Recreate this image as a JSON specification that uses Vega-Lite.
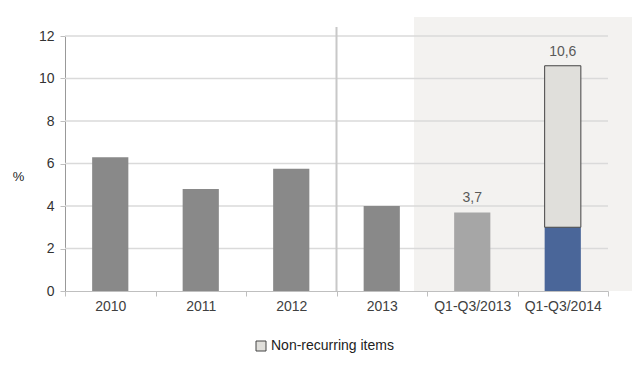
{
  "$schema": "https://vega.github.io/schema/vega-lite/v6.json",
  "width": 543,
  "height": 255,
  "autosize": {"type": "none"},
  "padding": {"left": 65, "top": 36, "right": 36, "bottom": 79},
  "background": "#ffffff",
  "config": {
    "view": {"stroke": null},
    "font": "Liberation Sans",
    "axis": {"labelFont": "Liberation Sans", "labelColor": "#404040", "labelFontSize": 14}
  },
  "datasets": {
    "bars": [
      {"cat": "2010", "segment": "Annual", "low": 0, "high": 6.3},
      {"cat": "2011", "segment": "Annual", "low": 0, "high": 4.8},
      {"cat": "2012", "segment": "Annual", "low": 0, "high": 5.75},
      {"cat": "2013", "segment": "Annual", "low": 0, "high": 4.0},
      {"cat": "Q1-Q3/2013", "segment": "Interim 2013", "low": 0, "high": 3.7},
      {"cat": "Q1-Q3/2014", "segment": "Interim 2014", "low": 0, "high": 3.0},
      {"cat": "Q1-Q3/2014", "segment": "Non-recurring items", "low": 3.0, "high": 10.6}
    ],
    "labels": [
      {"cat": "Q1-Q3/2013", "total": 3.7, "label": "3,7"},
      {"cat": "Q1-Q3/2014", "total": 10.6, "label": "10,6"}
    ],
    "grid": [{"v": 2}, {"v": 4}, {"v": 6}, {"v": 8}, {"v": 10}, {"v": 12}],
    "shade": [{"from": "Q1-Q3/2013"}],
    "sep": [{"at": "2013"}]
  },
  "encoding": {
    "x": {
      "field": "cat",
      "type": "nominal",
      "sort": null,
      "scale": {"domain": ["2010", "2011", "2012", "2013", "Q1-Q3/2013", "Q1-Q3/2014"], "paddingInner": 0, "paddingOuter": 0},
      "axis": {
        "title": null,
        "labelAngle": 0,
        "tickBand": "extent",
        "domainColor": "#bfbfbf",
        "tickColor": "#bfbfbf",
        "tickSize": 5,
        "labelPadding": 3
      }
    }
  },
  "layer": [
    {
      "data": {"name": "shade"},
      "mark": {"type": "rect", "color": "#f3f2f0", "xOffset": -13, "x2Offset": 24, "yOffset": -19, "y2Offset": 47},
      "encoding": {
        "x": {"field": "from", "type": "nominal", "bandPosition": 0},
        "x2": {"value": "width"}
      }
    },
    {
      "data": {"name": "grid"},
      "mark": {"type": "rule", "color": "#dadada", "strokeWidth": 1.5},
      "encoding": {
        "x": null,
        "y": {"field": "v", "type": "quantitative"}
      }
    },
    {
      "data": {"name": "sep"},
      "mark": {"type": "rule", "color": "#c8c8c8", "strokeWidth": 2, "yOffset": -9, "y2Offset": 25},
      "encoding": {
        "x": {"field": "at", "type": "nominal", "bandPosition": 0}
      }
    },
    {
      "data": {"name": "bars"},
      "mark": {"type": "bar", "width": {"band": 0.4}},
      "encoding": {
        "y": {
          "field": "high",
          "type": "quantitative",
          "scale": {"domain": [0, 12], "nice": false},
          "axis": {
            "title": "%",
            "titleAngle": 0,
            "titleX": -47,
            "titleY": 140,
            "titleAlign": "center",
            "titleBaseline": "middle",
            "titleFontWeight": "normal",
            "titleFontSize": 13,
            "titleFont": "Liberation Sans",
            "titleColor": "#222222",
            "values": [0, 2, 4, 6, 8, 10, 12],
            "grid": false,
            "domainColor": "#999999",
            "tickColor": "#bfbfbf",
            "tickSize": 5,
            "labelPadding": 6,
            "labelColor": "#333333"
          }
        },
        "y2": {"field": "low"},
        "color": {
          "field": "segment",
          "type": "nominal",
          "scale": {
            "domain": ["Annual", "Interim 2013", "Interim 2014", "Non-recurring items"],
            "range": ["#898989", "#a6a6a6", "#4a6699", "#e0dfdb"]
          },
          "legend": {
            "values": ["Non-recurring items"],
            "title": null,
            "orient": "none",
            "legendX": 189,
            "legendY": 303,
            "symbolType": "square",
            "symbolSize": 100,
            "symbolStrokeColor": "#444444",
            "symbolStrokeWidth": 1,
            "labelOffset": 3,
            "labelFontSize": 14,
            "labelColor": "#222222",
            "labelFont": "Liberation Sans"
          }
        },
        "stroke": {
          "condition": {"test": "datum.segment === 'Non-recurring items'", "value": "#444444"},
          "value": null
        }
      }
    },
    {
      "data": {"name": "labels"},
      "mark": {"type": "text", "baseline": "bottom", "dy": -7, "fontSize": 14, "color": "#595959", "font": "Liberation Sans"},
      "encoding": {
        "y": {"field": "total", "type": "quantitative"},
        "text": {"field": "label"}
      }
    }
  ]
}
